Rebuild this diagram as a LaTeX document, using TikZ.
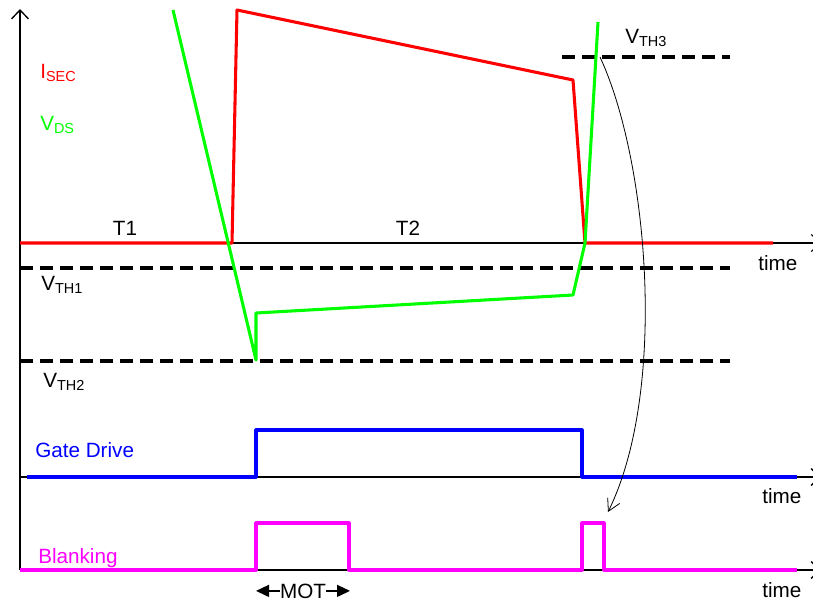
\documentclass[tikz,border=0pt]{standalone}
\usepackage{fontspec}
\setmainfont{Liberation Sans}
\usetikzlibrary{arrows.meta}
\definecolor{isec}{RGB}{255,0,0}
\definecolor{vds}{RGB}{0,255,0}
\definecolor{gate}{RGB}{0,0,255}
\definecolor{blank}{RGB}{255,0,255}
\begin{document}
\begin{tikzpicture}[x=0.75pt,y=-0.75pt,
        axis/.style={black,line width=1pt},
        axtip/.style={-{Straight Barb[length=6.75pt,width=12.75pt]}},
        thresh/.style={black,line width=2.4pt,dash pattern=on 9.75pt off 5.25pt},
        wave/.style={line width=2.3pt,line join=round},
        lbl/.style={inner sep=0pt,anchor=base west,font=\fontsize{15.5}{18}\selectfont}]
        \useasboundingbox (0,0) rectangle (813,604);
        \draw [axis,axtip] (20,570) -- (20,9);
        \draw [axis,axtip,line width=0.8pt] (20,243) -- (821,243);
        \draw [axis,axtip] (20,477) -- (821,477);
        \draw [axis,axtip] (20,570) -- (821,570);
        \draw [thresh] (20,268) -- (730,268);
        \draw [thresh] (20,361) -- (730,361);
        \draw [thresh] (562,57) -- (730,57);
        \draw [wave,isec] (20,243) -- (232,243) -- (237,10) -- (573,80) -- (585,243) -- (773,243);
        \draw [wave,vds] (173,10) -- (256,360) -- (256,313) -- (573,295) -- (585,243) -- (598,22);
        \draw [wave,gate] (27,477) -- (256,477) -- (256,430) -- (582,430) -- (582,477) -- (797,477);
        \draw [wave,blank] (20,570) -- (256,570) -- (256,523) -- (349,523) -- (349,570) -- (582,570) -- (582,523) -- (604,523) -- (604,570) -- (797,570);
        \node [lbl,isec] (isecl) at (40,78) {I\textsubscript{SEC}};
        \node [lbl,vds] (vdsl) at (40,130) {V\textsubscript{DS}};
        \node [lbl] (vth1) at (41,290) {V\textsubscript{TH1}};
        \node [lbl] (vth2) at (43,387) {V\textsubscript{TH2}};
        \node [lbl] (vth3) at (625,43) {V\textsubscript{TH3}};
        \node [lbl,anchor=base] (t1) at (125,235) {T1};
        \node [lbl,anchor=base] (t2) at (408,235) {T2};
        \node [lbl,gate] (gatel) at (35,457) {Gate Drive};
        \node [lbl,blank] (blankl) at (38,563) {Blanking};
        \node [lbl] (time1) at (758,270) {time};
        \node [lbl] (time2) at (762,503) {time};
        \node [lbl] (time3) at (762,597) {time};
        \node [lbl,anchor=base] (mot) at (303,598) {MOT};
        \coordinate (motx1) at (256,0);
        \coordinate (motx2) at (350,0);
        \draw [line width=1pt,-{Triangle[length=9.75pt,width=9pt]}] (mot.west) -- (mot.west -| motx1);
        \draw [line width=1pt,-{Triangle[length=9.75pt,width=9pt]}] (mot.east) -- (mot.east -| motx2);
        \coordinate (cross3) at (600,57);
        \coordinate (blkend) at (608,512);
        \draw [line width=0.6pt,-{Straight Barb[length=9pt,width=10pt]}] (cross3) .. controls (648,160) and (668,390) .. (blkend);
\end{tikzpicture}
\end{document}
